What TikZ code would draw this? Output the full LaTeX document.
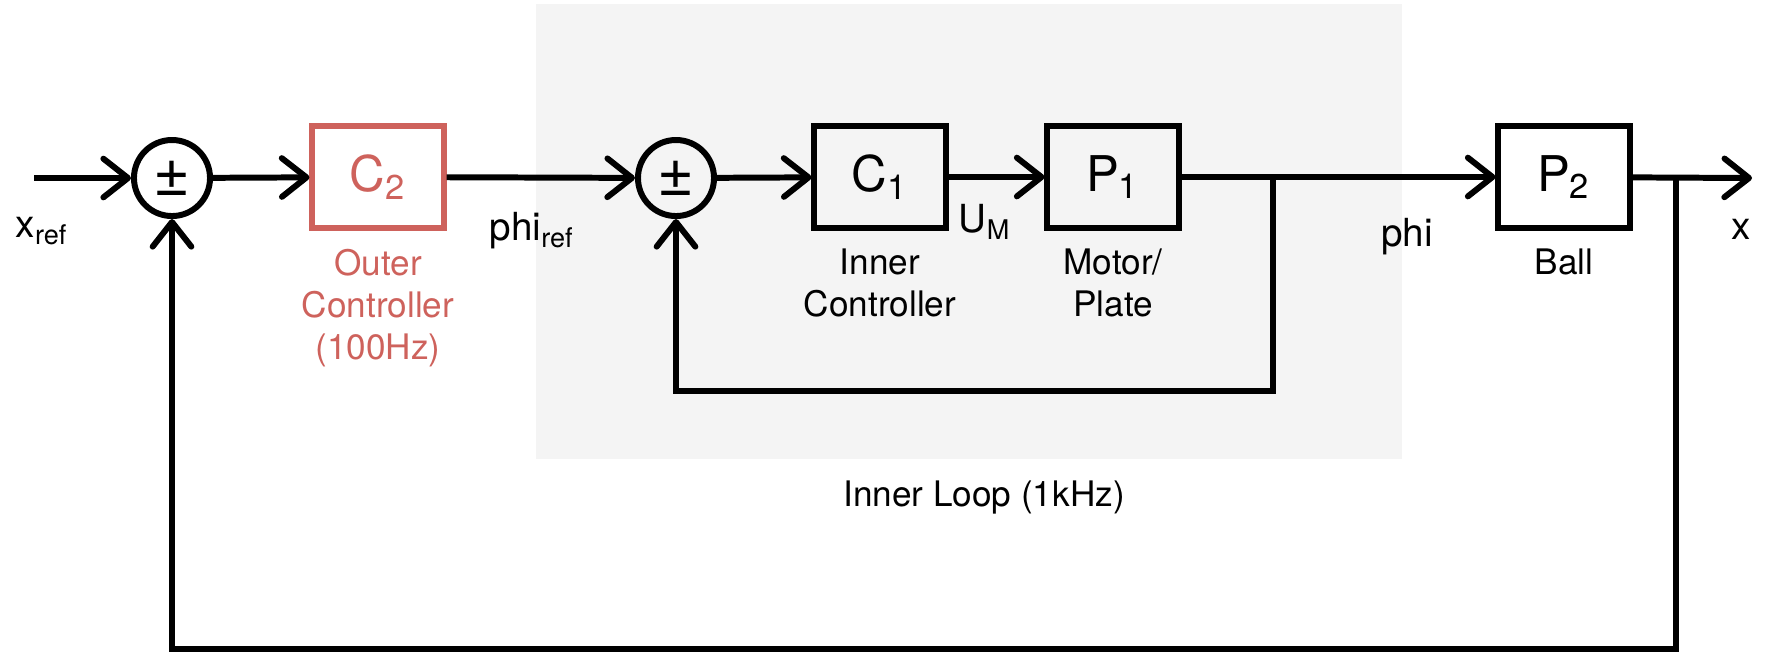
\documentclass[tikz,border=0pt]{standalone}
\usepackage{fontspec}
\setmainfont{TeX Gyre Heros}
\usetikzlibrary{arrows.meta,positioning}
\definecolor{LoopGray}{RGB}{244,244,244}
\definecolor{OuterRed}{RGB}{206,98,92}

\begin{document}
\begin{tikzpicture}[x=0.01cm,y=-0.01cm,
    line width=1.7pt,
    flow/.style={-{Straight Barb[length=7pt,width=11pt,round]}},
    sumnode/.style={draw, circle, minimum size=0.76cm, inner sep=0pt, font=\fontsize{18}{20}\selectfont},
    blockbox/.style={draw, minimum width=1.31cm, minimum height=1.02cm, inner sep=0pt, font=\fontsize{14}{16}\selectfont},
    blocklabel/.style={below=0.15cm of #1, inner sep=0pt, align=center, font=\fontsize{10}{12}\selectfont},
    sig/.style={inner sep=0pt, font=\fontsize{11}{13}\selectfont}]
  \useasboundingbox (0,0) rectangle (1767,653);
  % shaded inner loop
  \fill[LoopGray] (536,4) rectangle (1402,459);
  \node[inner sep=0pt, font=\fontsize{10}{12}\selectfont] (loopLbl) at (984,497) {Inner Loop (1kHz)};

  % summing junctions
  \node[sumnode] (sumOuter) at (172,178) {\raisebox{-1pt}{±}};
  \node[sumnode] (sumInner) at (676,178) {\raisebox{-1pt}{±}};

  % blocks
  \node[blockbox, draw=OuterRed, text=OuterRed] (C2) at (378,177) {C\textsubscript{2}};
  \foreach \id/\xx/\sym in {C1/880/{C\textsubscript{1}},P1/1113/{P\textsubscript{1}},P2/1564/{P\textsubscript{2}}} {
    \node[blockbox] (\id) at (\xx,177) {\sym};
  }
  \node[blocklabel=C2, text=OuterRed] (C2Lbl) {Outer\\Controller\\(100Hz)};
  \node[blocklabel=C1] (C1Lbl) {Inner\\Controller};
  \node[blocklabel=P1] (P1Lbl) {Motor/\\Plate};
  \node[blocklabel=P2] (P2Lbl) {Ball};

  % signal names
  \node[sig] (xrefLbl) at (42,231) {x\textsubscript{ref}};
  \node[sig] (phirefLbl) at (532,231) {phi\textsubscript{ref}};
  \node[sig] (umLbl) at (985,222) {U\textsubscript{M}};
  \node[sig] (phiLbl) at (1407,237) {phi};
  \node[sig] (xLbl) at (1741,229) {x};

  \coordinate (xIn) at (34,178);
  \coordinate (xOut) at (1752,178);
  \coordinate (phiTap) at (1273,178);
  \coordinate (xTap) at (1676,178);
  \coordinate (innerBottom) at (1273,391);
  \coordinate (outerBottom) at (1676,649);

  % forward path
  \draw[flow] (xIn) -- (sumOuter);
  \draw[flow] (sumOuter) -- (C2);
  \draw[flow] (C2) -- (sumInner);
  \draw[flow] (sumInner) -- (C1);
  \draw[flow] (C1) -- (P1);
  \draw[flow] (P1) -- (P2);
  \draw[flow] (P2) -- (xOut);
  % feedback
  \draw[flow] (phiTap) -- (innerBottom) -| (sumInner);
  \draw[flow] (xTap) -- (outerBottom) -| (sumOuter);
\end{tikzpicture}
\end{document}
